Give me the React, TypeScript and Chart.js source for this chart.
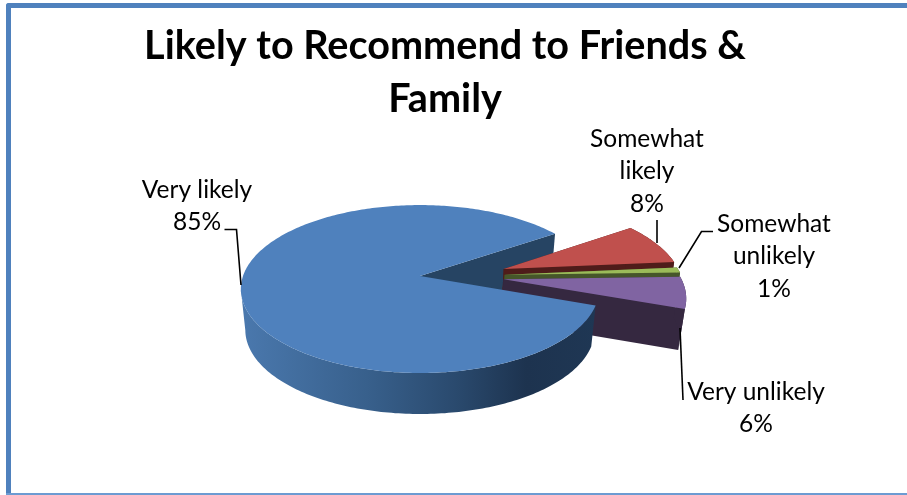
import { useEffect, useRef } from "react";
import { Chart, registerables } from "chart.js";

Chart.register(...registerables);

// Survey answers
const categories = ["Very likely", "Somewhat likely", "Somewhat unlikely", "Very unlikely"];
const shares = [85, 8, 1, 6];
const titleLines = ["Likely to Recommend to Friends &", "Family"];

// Slice colours: upper face, then side wall
const faceColors = ["#4F81BD", "#C0504D", "#9BBB59", "#8064A2"];
const wallColors = ["#264463", "#4F1C1A", "#46562A", "#352840"];
const explodePx = [0, 90, 85, 84];

// Wrapped label text, and where each label and its leader line sit
const labelLines = [["Very likely"], ["Somewhat", "likely"], ["Somewhat", "unlikely"], ["Very unlikely"]];
const labelCenterX = [197, 647, 774, 756];
const labelFirstY = [190, 139, 224, 392];
const leaderPaths = [
  [[224.5, 229.5], [236.5, 229.5], [241, 285]],
  [[657, 220], [657, 243]],
  [[713, 231.5], [701.5, 231.5], [679, 268]],
  [[680, 328], [683, 400]],
];

const LABEL_FONT = "24.5px Lato";
const LABEL_LINE = 32.5;

// Perspective of the tilted disc; the pie sits left of the title's centre
const PIE_SHIFT_X = -25;
const TILT = 0.463;
const PERSPECTIVE = 0.155;
const DEPTH = 41;
const BASE_SCALE_X = 0.975;
const EXPLODE_DEPTH = 0.5;
const SILHOUETTE_ANGLE = (171 * Math.PI) / 180;
const RAD = Math.PI / 180;

type Pt = [number, number];

const pie3d = {
  id: "pie3d",
  beforeDatasetsDraw(chart: any) {
    const ctx: CanvasRenderingContext2D = chart.ctx;
    const arcs = chart.getDatasetMeta(0).data;
    const cx = arcs[0].x + PIE_SHIFT_X;
    const cy = arcs[0].y;
    const R = arcs[0].outerRadius;

    const project = (u: number, v: number, base: boolean): Pt => {
      const s = 1 / (1 - PERSPECTIVE * v);
      return [cx + R * u * s * (base ? BASE_SCALE_X : 1), cy + (base ? DEPTH : 0) + R * TILT * v * s];
    };

    const explosion = (arc: any, i: number): Pt => {
      const mid = (arc.startAngle + arc.endAngle) / 2;
      const o = explodePx[i] / R;
      return [o * Math.cos(mid), o * Math.sin(mid) * EXPLODE_DEPTH];
    };

    const rim = (from: number, to: number, o: Pt, base: boolean): Pt[] => {
      const n = Math.max(2, Math.ceil(Math.abs(to - from) / RAD));
      const pts: Pt[] = [];
      for (let k = 0; k <= n; k++) {
        const a = from + ((to - from) * k) / n;
        pts.push(project(o[0] + Math.cos(a), o[1] + Math.sin(a), base));
      }
      return pts;
    };

    const fillPoly = (pts: Pt[], color: string | CanvasGradient) => {
      ctx.beginPath();
      pts.forEach((p, k) => (k ? ctx.lineTo(p[0], p[1]) : ctx.moveTo(p[0], p[1])));
      ctx.closePath();
      ctx.fillStyle = color;
      ctx.fill();
    };

    const drawFace = (arc: any, o: Pt, color: string) => {
      fillPoly([project(o[0], o[1], false), ...rim(arc.startAngle, arc.endAngle, o, false)], color);
    };

    // Cut face of the large slice showing through its gap
    const main = arcs[0];
    const cornerTop = rim(main.endAngle, main.endAngle, [0, 0], false)[0];
    const cornerBase = rim(main.endAngle, main.endAngle, [0, 0], true)[0];
    fillPoly([project(0, 0, false), cornerTop, cornerBase, project(0, 0, true)], wallColors[0]);

    // Exploded slices, back to front
    for (let i = 1; i < arcs.length; i++) {
      const arc = arcs[i];
      const o = explosion(arc, i);
      const top = rim(arc.startAngle, arc.endAngle, o, false);
      const base = rim(arc.startAngle, arc.endAngle, o, true);
      const wall = wallColors[i];
      fillPoly([project(o[0], o[1], false), top[0], base[0], project(o[0], o[1], true)], wall);
      fillPoly([project(o[0], o[1], false), top[top.length - 1], base[base.length - 1], project(o[0], o[1], true)], wall);
      fillPoly([...top, ...base.reverse()], wall);
      drawFace(arc, o, faceColors[i]);
    }

    // Front wall of the large slice, shaded from left to right
    const frontTop = rim(main.startAngle, SILHOUETTE_ANGLE, [0, 0], false);
    const frontBase = rim(main.startAngle, SILHOUETTE_ANGLE, [0, 0], true);
    const shade = ctx.createLinearGradient(cx - R, 0, cx + R, 0);
    shade.addColorStop(0, "#4A78AD");
    shade.addColorStop(0.35, "#38608C");
    shade.addColorStop(0.6, "#2A4A6E");
    shade.addColorStop(0.8, "#1D334F");
    shade.addColorStop(1, "#1F3754");
    fillPoly([...frontTop, ...frontBase.reverse()], shade);
    drawFace(main, [0, 0], faceColors[0]);

    return false;
  },
  afterDraw(chart: any) {
    const ctx: CanvasRenderingContext2D = chart.ctx;
    ctx.save();
    ctx.strokeStyle = "#000000";
    ctx.lineWidth = 1.6;
    leaderPaths.forEach((path) => {
      ctx.beginPath();
      path.forEach((p, k) => (k ? ctx.lineTo(p[0], p[1]) : ctx.moveTo(p[0], p[1])));
      ctx.stroke();
    });
    ctx.fillStyle = "#000000";
    ctx.font = LABEL_FONT;
    ctx.textAlign = "center";
    ctx.textBaseline = "middle";
    labelLines.forEach((lines, i) => {
      [...lines, `${shares[i]}%`].forEach((text, k) => {
        ctx.fillText(text, labelCenterX[i], labelFirstY[i] + k * LABEL_LINE);
      });
    });
    ctx.restore();
  },
};

export default function App() {
  const canvasRef = useRef<HTMLCanvasElement>(null);

  useEffect(() => {
    const chart = new Chart(canvasRef.current!, {
      type: "pie",
      data: {
        labels: categories,
        datasets: [
          {
            data: shares,
            backgroundColor: faceColors,
            borderWidth: 0,
            offset: explodePx,
            radius: 177,
            rotation: 110,
          } as any,
        ],
      },
      options: {
        responsive: false,
        animation: false,
        layout: { padding: { left: 0, right: 0, top: 0, bottom: 69 } },
        plugins: {
          legend: { display: false },
          tooltip: { enabled: false },
          title: {
            display: true,
            text: titleLines,
            color: "#000000",
            font: { family: "Lato", size: 39.6, weight: "bold", lineHeight: 53 / 39.6 },
            padding: { top: 20, bottom: 0 },
            fullSize: true,
          },
        },
      },
      plugins: [pie3d],
    });
    return () => chart.destroy();
  }, []);

  return (
    <div style={{ position: "fixed", inset: 0, overflow: "hidden", background: "#FFFFFF" }}>
      <div
        style={{
          position: "absolute",
          left: 6,
          top: 3,
          width: 1000,
          height: 485,
          borderStyle: "solid",
          borderColor: "#4F81BD",
          borderWidth: "5px 0 0 5px",
          borderTopLeftRadius: 3,
        }}
      />
      <div style={{ position: "absolute", left: 6, top: 493, width: 1000, height: 2, background: "#6C9BD2" }} />
      <canvas ref={canvasRef} width={890} height={495} style={{ position: "absolute", left: 0, top: 0, display: "block" }} />
    </div>
  );
}
